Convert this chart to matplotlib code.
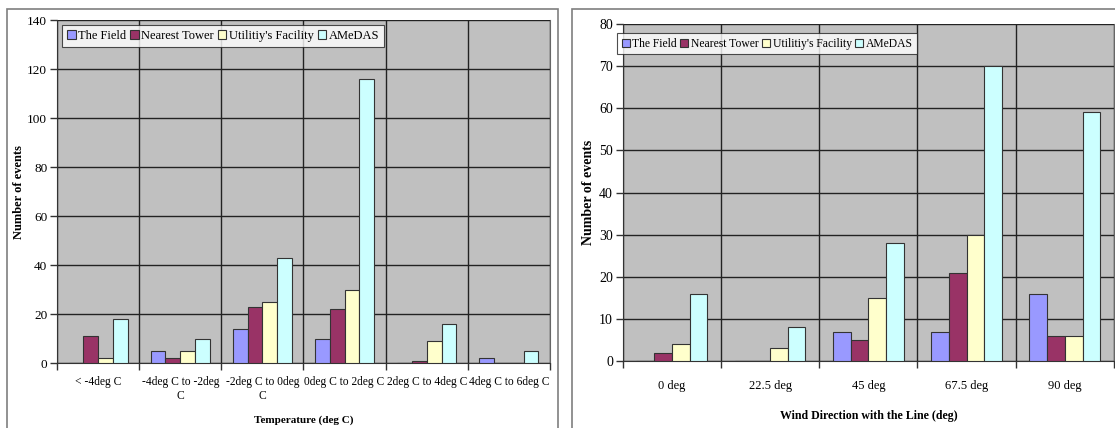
import matplotlib.pyplot as plt
from matplotlib.patches import Rectangle
import numpy as np

# data
series = ["The Field", "Nearest Tower", "Utilitiy's Facility", "AMeDAS"]
colors = ["#9999FF", "#993366", "#FFFFCC", "#CCFFFF"]

temp_labels = ["< -4deg C", "-4deg C to -2deg\nC", "-2deg C to 0deg\nC",
               "0deg C to 2deg C", "2deg C to 4deg C", "4deg C to 6deg C"]
temp_field = [0, 5, 14, 10, 0, 2]
temp_tower = [11, 2, 23, 22, 1, 0]
temp_utility = [2, 5, 25, 30, 9, 0]
temp_amedas = [18, 10, 43, 116, 16, 5]

wind_labels = ["0 deg", "22.5 deg", "45 deg", "67.5 deg", "90 deg"]
wind_field = [0, 0, 7, 7, 16]
wind_tower = [2, 0, 5, 21, 6]
wind_utility = [4, 3, 15, 30, 6]
wind_amedas = [16, 8, 28, 70, 59]

plt.rcParams['font.family'] = ['Liberation Serif', 'DejaVu Serif']

W, H = 1115, 428
fig = plt.figure(figsize=(W / 100, H / 100), dpi=100)

# outer chart frames (both run off the bottom / right of the picture)
fig.patches.append(Rectangle((7 / W, -0.1), (558 - 7) / W, 1.1 - 9 / H,
                             transform=fig.transFigure, fill=False,
                             edgecolor="#7f7f7f", lw=1.2))
fig.patches.append(Rectangle((572 / W, -0.1), 0.5, 1.1 - 9 / H,
                             transform=fig.transFigure, fill=False,
                             edgecolor="#7f7f7f", lw=1.2))


def draw(ax, labels, values, ymax, ystep, xtick_fs, ytick_fs, leg_fs, pad, legend_xy):
    n = len(labels)
    x = np.arange(n)
    w = 0.18
    ax.set_facecolor("#C0C0C0")
    for i, vals in enumerate(values):
        ax.bar(x + (i - 1.5) * w, vals, w, color=colors[i], edgecolor="#333333",
               linewidth=0.8, label=series[i], zorder=3)
    ax.set_xlim(-0.5, n - 0.5)
    ax.set_ylim(0, ymax)
    ax.set_yticks(np.arange(0, ymax + 1, ystep))
    # grid lines sit on the category boundaries
    ax.set_xticks(np.arange(n + 1) - 0.5)
    ax.set_xticklabels([])
    ax.set_xticks(x, minor=True)
    ax.set_xticklabels(labels, minor=True, fontsize=xtick_fs, linespacing=1.25)
    ax.tick_params(axis='x', which='minor', length=0, pad=pad)
    ax.tick_params(axis='x', which='major', length=5, width=1, color="#333333")
    ax.tick_params(axis='y', length=5, width=1, color="#333333", labelsize=ytick_fs, pad=2)
    ax.grid(True, which='major', color="#222222", lw=1, zorder=1)
    for s in ax.spines.values():
        s.set_color("#333333")
    ax.spines['top'].set_visible(False)
    ax.spines['right'].set_color("#666666")
    leg = ax.legend(loc='upper left', bbox_to_anchor=legend_xy, ncol=4,
                    fontsize=leg_fs, frameon=True, fancybox=False,
                    edgecolor="#222222", borderaxespad=0, handlelength=0.7,
                    handleheight=0.7, handletextpad=0.2, columnspacing=0.3,
                    borderpad=0.4)
    leg.get_frame().set_linewidth(0.8)
    leg.set_zorder(5)
    return ax


# left chart: temperature
ax1 = fig.add_axes([57 / W, 1 - 363.3 / H, (550 - 57) / W, (363.3 - 20) / H])
draw(ax1, temp_labels, [temp_field, temp_tower, temp_utility, temp_amedas],
     140, 20, 8.3, 9.5, 9.0, 9, (0.010, 0.986))
ax1.set_xlabel("Temperature (deg C)", fontsize=8, fontweight='bold')
ax1.xaxis.set_label_coords(0.5, -0.152)
ax1.set_ylabel("Number of events", fontsize=9, fontweight='bold')
ax1.yaxis.set_label_coords(-0.065, 0.5)

# right chart: wind direction
ax2 = fig.add_axes([622.7 / W, 1 - 361 / H, (1114 - 622.7) / W, (361 - 24) / H])
draw(ax2, wind_labels, [wind_field, wind_tower, wind_utility, wind_amedas],
     80, 10, 9, 10, 8.4, 14, (-0.0116, 0.973))
ax2.set_xlabel("Wind Direction with the Line (deg)", fontsize=8.6, fontweight='bold')
ax2.xaxis.set_label_coords(0.5, -0.145)
ax2.set_ylabel("Number of events", fontsize=10, fontweight='bold')
ax2.yaxis.set_label_coords(-0.056, 0.5)

fig.savefig("out.png", dpi=100)
